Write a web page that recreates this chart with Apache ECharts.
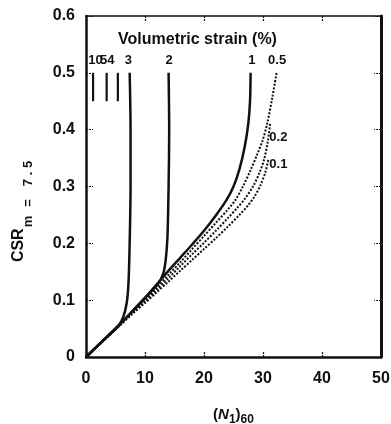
<!DOCTYPE html>
<html>
<head>
<meta charset="utf-8">
<script src="https://cdn.jsdelivr.net/npm/echarts@6/dist/echarts.min.js"></script>
<style>
  html, body { margin: 0; padding: 0; background: #fff; }
  #grafico { width: 391px; height: 424px; }
</style>
</head>
<body>
<div id="grafico"></div>
<script>
// curvas de deformacion volumetrica, [ (N1)60 , CSR ]
const curva3 = [[0, 0], [2.5, 0.025], [5.5, 0.055], [6.3, 0.07], [6.9, 0.095], [7.2, 0.13], [7.4, 0.2], [7.55, 0.3], [7.55, 0.4], [7.4, 0.5]];
const curva2 = [[0, 0], [2.5, 0.025], [5.5, 0.055], [8, 0.082], [10, 0.104], [11.3, 0.118], [12.3, 0.13], [13.1, 0.147], [13.5, 0.17], [13.8, 0.21], [14.0, 0.3], [14.1, 0.4], [14.0, 0.5]];
const curva1 = [[0, 0], [2.5, 0.025], [5.5, 0.055], [8, 0.082], [10, 0.104], [12, 0.128], [14, 0.152], [16, 0.175], [18, 0.198], [20, 0.222], [22, 0.249], [23.8, 0.276], [25, 0.3], [26, 0.33], [26.9, 0.37], [27.5, 0.41], [27.8, 0.45], [27.9, 0.5]];
const curva05 = [[0, 0], [5.5, 0.055], [8, 0.081], [10, 0.101], [12, 0.122], [14, 0.145], [16, 0.167], [18, 0.19], [20, 0.213], [22, 0.236], [24, 0.259], [25.3, 0.276], [26.6, 0.3], [27.9, 0.329], [29.0, 0.356], [29.9, 0.38], [30.7, 0.41], [31.6, 0.458], [32.3, 0.5]];
const curva02 = [[0, 0], [5.5, 0.054], [8, 0.079], [10, 0.098], [12, 0.118], [14, 0.139], [16, 0.16], [18, 0.181], [20, 0.201], [22, 0.222], [24, 0.244], [25.6, 0.262], [26.9, 0.278], [28.3, 0.3], [29.4, 0.324], [30.2, 0.348], [30.8, 0.378], [31.2, 0.41]];
const curva01 = [[0, 0], [5.5, 0.053], [8, 0.077], [10, 0.095], [12, 0.114], [14, 0.133], [16, 0.152], [18, 0.171], [20, 0.19], [22, 0.209], [24, 0.229], [26, 0.25], [27.4, 0.266], [28.6, 0.283], [29.6, 0.303], [30.4, 0.325], [30.9, 0.347]];

// trazos cortos para 10, 5 y 4 %
const trazosX = [1.2, 3.5, 5.4];
const trazosY = [0.45, 0.5];

// etiquetas de las curvas y su punto de anclaje
const etiquetas = ['10', '5', '4', '3', '2', '1', '0.5', '0.2', '0.1'];
const anclajes = [[1.6, 0.521], [3.0, 0.521], [4.2, 0.521], [7.2, 0.521], [14.1, 0.521], [28.1, 0.521], [32.4, 0.521], [32.6, 0.387], [32.6, 0.338]];

const ticksX = [0, 10, 20, 30, 40, 50];
const ticksY = [0, 0.1, 0.2, 0.3, 0.4, 0.5, 0.6];

const negro = '#111';
const fuente = 'Liberation Sans, Arial, sans-serif';
const fuenteEstrecha = 'Liberation Sans Narrow, Liberation Sans, Arial, sans-serif';

const serieSolida = (datos) => ({
    type: 'line', data: datos, smooth: 0.3, symbol: 'none',
    lineStyle: { color: negro, width: 2.5 }, z: 3
});
const seriePunteada = (datos) => ({
    type: 'line', data: datos, smooth: 0.3, symbol: 'none',
    lineStyle: { color: negro, width: 2, type: [2, 1.6] }, z: 2
});

const series = [
    serieSolida(curva3), serieSolida(curva2), serieSolida(curva1),
    seriePunteada(curva05), seriePunteada(curva02), seriePunteada(curva01)
];
trazosX.forEach(x => {
    series.push({
        type: 'line', data: trazosY.map(y => [x, y]), symbol: 'none',
        lineStyle: { color: negro, width: 2.2 }
    });
});
series.push({
    type: 'scatter', symbolSize: 0, silent: true,
    itemStyle: { opacity: 1 },
    data: anclajes.map((p, i) => [p[0], p[1], etiquetas[i]]),
    label: {
        show: true, position: 'inside', color: negro, fontFamily: fuenteEstrecha,
        fontWeight: 'bold', fontSize: 13,
        formatter: p => p.data[2]
    }
});
series.push({
    type: 'scatter', symbolSize: 0, silent: true,
    itemStyle: { opacity: 1 },
    data: [[18.9, 0.558]],
    label: {
        show: true, position: 'inside', color: negro, fontFamily: fuente,
        fontWeight: 'bold', fontSize: 16,
        formatter: () => 'Volumetric strain (%)'
    }
});

const ejeBase = {
    type: 'value', min: 0, max: 50, interval: 10,
    splitLine: { show: false },
    axisTick: { show: true, inside: true, length: 6, lineStyle: { color: negro, width: 1.2, type: [2, 1] } }
};
const ejeYBase = {
    type: 'value', min: 0, max: 0.6, interval: 0.1,
    splitLine: { show: false },
    axisTick: { show: true, inside: true, length: 7, lineStyle: { color: negro, width: 1.2, type: [2, 1] } }
};

const estiloSub = { fontSize: 13, fontWeight: 'bold', fontFamily: fuente, color: negro };

const chart = echarts.init(document.getElementById('grafico'));
chart.setOption({
    animation: false,
    backgroundColor: '#fff',
    grid: { left: 86, top: 16, right: 10, bottom: 67, outerBoundsMode: 'none', containLabel: false },
    xAxis: [
        Object.assign({}, ejeBase, {
            position: 'bottom',
            axisLine: { show: true, onZero: false, lineStyle: { color: negro, width: 2.5 } },
            axisLabel: {
                color: negro, fontFamily: fuente, fontWeight: 'bold', fontSize: 16, margin: 14,
                formatter: v => ticksX.includes(v) ? String(v) : ''
            },
            name: '({it|N}{sub|1}){sub|60}',
            nameLocation: 'middle', nameGap: 47,
            nameTextStyle: {
                color: negro, fontFamily: fuente, fontWeight: 'bold', fontSize: 15,
                rich: {
                    it: { fontStyle: 'italic', fontWeight: 'bold', fontSize: 15, fontFamily: fuente, color: negro },
                    sub: { fontSize: 12, fontWeight: 'bold', fontFamily: fuente, color: negro, padding: [10, 0, 0, 0] }
                }
            }
        }),
        Object.assign({}, ejeBase, {
            position: 'top',
            axisLine: { show: true, onZero: false, lineStyle: { color: negro, width: 1.5 } },
            axisLabel: { show: false }
        })
    ],
    yAxis: [
        Object.assign({}, ejeYBase, {
            position: 'left',
            axisLine: { show: true, onZero: false, lineStyle: { color: negro, width: 2.5 } },
            axisLabel: {
                color: negro, fontFamily: fuente, fontWeight: 'bold', fontSize: 16, margin: 11,
                formatter: v => {
                    const t = ticksY.find(k => Math.abs(k - v) < 1e-6);
                    return t === undefined ? '' : (t === 0 ? '0' : t.toFixed(1));
                }
            },
            name: 'CSR{m|m}{eq|=}{n|7 . 5}',
            nameLocation: 'middle', nameGap: 51,
            nameTextStyle: {
                color: negro, fontFamily: fuente, fontWeight: 'bold', fontSize: 16,
                padding: [0, 50, 0, 0],
                rich: {
                    m: Object.assign({}, estiloSub, { padding: [20, 0, 0, 1] }),
                    eq: Object.assign({}, estiloSub, { padding: [20, 13, 0, 9] }),
                    n: Object.assign({}, estiloSub, { padding: [20, 0, 0, 0] })
                }
            }
        }),
        Object.assign({}, ejeYBase, {
            position: 'right',
            axisLine: { show: true, onZero: false, lineStyle: { color: negro, width: 3 } },
            axisLabel: { show: false }
        })
    ],
    series: series
});
</script>
</body>
</html>
